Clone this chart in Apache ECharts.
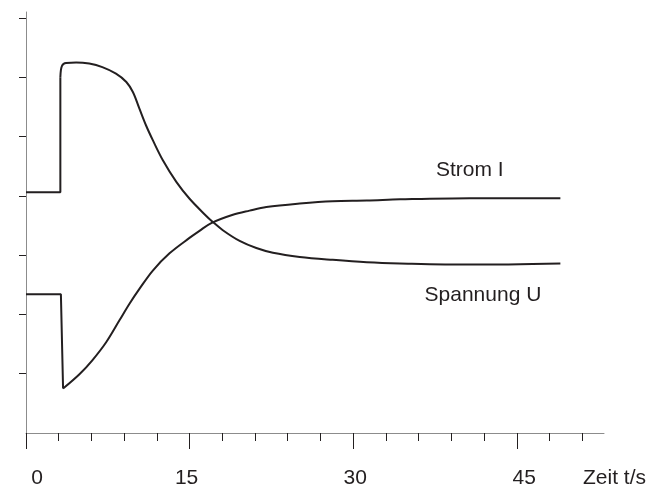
<!DOCTYPE html>
<html>
<head>
<meta charset="utf-8">
<script src="https://cdn.jsdelivr.net/npm/echarts@6/dist/echarts.min.js"></script>
<style>
  html, body { margin: 0; padding: 0; background: #fff; }
  #chart { width: 658px; height: 484px; }
</style>
</head>
<body>
<div id="chart"></div>
<script>
// Zeit t/s ; first three points are the step before the switch-on
const stromT = [0, 3.2, 3.4, 4.9, 6.1, 7.35, 8.57, 9.49, 10.4, 11.63, 13.16, 14.99, 15.91, 16.99, 18.97, 20.5, 22.04, 25.1, 28.1, 31.25, 34.3, 40.7, 49.0];
const stromI = [2.34, 2.34, 0.75, 0.99, 1.23, 1.53, 1.90, 2.18, 2.43, 2.74, 3.03, 3.29, 3.41, 3.54, 3.68, 3.75, 3.81, 3.87, 3.91, 3.92, 3.94, 3.96, 3.96];

const spannungT = [0, 3.15, 3.15, 3.2, 3.3, 3.45, 3.67, 4.6, 5.8, 7.0, 8.25, 9.2, 9.8, 10.4, 11.0, 11.65, 12.55, 13.8, 15.0, 16.53, 17.0, 18.05, 19.59, 21.12, 22.64, 25.1, 28.13, 31.25, 34.28, 40.7, 49.0];
const spannungU = [4.06, 4.06, 6.0, 6.12, 6.19, 6.225, 6.24, 6.25, 6.23, 6.17, 6.06, 5.92, 5.75, 5.47, 5.19, 4.93, 4.60, 4.23, 3.95, 3.66, 3.58, 3.42, 3.24, 3.12, 3.04, 2.97, 2.92, 2.88, 2.86, 2.84, 2.86];

const xLabels = [0, 15, 30, 45];
const xMinorTicks = [0, 3, 6, 9, 12, 15, 18, 21, 24, 27, 30, 33, 36, 39, 42, 45, 48, 51];
const yTicks = [1, 2, 3, 4, 5, 6, 7];

const ink = '#231f20';
const axisGray = '#8c8c8c';
const font = "'Liberation Sans', Arial, sans-serif";

const myChart = echarts.init(document.getElementById('chart'));

function zip(xs, ys) {
    return xs.map((x, i) => [x, ys[i]]);
}

const stromAll = zip(stromT, stromI);
const spannungAll = zip(spannungT, spannungU);

// step part (sharp corners) and curve part (smoothed)
function stepSeries(data) {
    return {
        type: 'line',
        xAxisIndex: 0,
        yAxisIndex: 0,
        data: data,
        showSymbol: false,
        silent: true,
        lineStyle: { color: ink, width: 2 }
    };
}

const option = {
    animation: false,
    textStyle: { fontFamily: font },
    grid: [
        { left: 26, right: 54, top: 12, bottom: 51, outerBoundsMode: 'none' },
        { left: 26, right: 54, top: 12, bottom: 51, outerBoundsMode: 'none' }
    ],
    xAxis: [
        {
            gridIndex: 0,
            type: 'value',
            min: 0,
            max: 53,
            splitLine: { show: false },
            axisLine: { lineStyle: { color: axisGray, width: 1 } },
            axisTick: { customValues: xLabels, length: 16, lineStyle: { color: ink, width: 1 } },
            axisLabel: {
                customValues: xLabels,
                margin: 35,
                color: ink,
                fontSize: 21,
                formatter: function (v) { return '{t' + v + '|' + v + '}'; },
                rich: {
                    t0: { fontSize: 21, color: ink, padding: [0, 0, 0, 22] },
                    t15: { fontSize: 21, color: ink, padding: [0, 6, 0, 0] },
                    t30: { fontSize: 21, color: ink, padding: [0, 0, 0, 4] },
                    t45: { fontSize: 21, color: ink, padding: [0, 0, 0, 15] }
                }
            },
            name: 'Zeit t/s',
            nameLocation: 'end',
            nameGap: -21,
            nameTextStyle: {
                fontSize: 21,
                color: ink,
                align: 'left',
                verticalAlign: 'top',
                padding: [35, 0, 0, 0]
            }
        },
        {
            gridIndex: 1,
            type: 'value',
            min: 0,
            max: 53,
            splitLine: { show: false },
            axisLine: { show: false },
            axisTick: { customValues: xMinorTicks, length: 8, lineStyle: { color: ink, width: 1 } },
            axisLabel: { show: false }
        }
    ],
    yAxis: [
        {
            gridIndex: 0,
            type: 'value',
            min: 0,
            max: 7.1,
            splitLine: { show: false },
            axisLine: { show: true, lineStyle: { color: axisGray, width: 1 } },
            axisTick: { show: true, customValues: yTicks, length: 7, lineStyle: { color: ink, width: 1 } },
            axisLabel: { show: false }
        },
        {
            gridIndex: 1,
            type: 'value',
            min: 0,
            max: 7.1,
            show: false
        }
    ],
    series: [
        stepSeries(stromAll.slice(0, 3)),
        {
            name: 'Strom I',
            type: 'line',
            xAxisIndex: 0,
            yAxisIndex: 0,
            data: stromAll.slice(2),
            smooth: 0.35,
            showSymbol: false,
            lineStyle: { color: ink, width: 2 },
            markPoint: {
                silent: true,
                symbol: 'circle',
                symbolSize: 0,
                data: [{ coord: [40.7, 3.96] }],
                label: {
                    show: true,
                    formatter: 'Strom I',
                    position: 'top',
                    distance: 17,
                    fontSize: 21,
                    color: ink
                }
            }
        },
        stepSeries(spannungAll.slice(0, 3)),
        {
            name: 'Spannung U',
            type: 'line',
            xAxisIndex: 0,
            yAxisIndex: 0,
            data: spannungAll.slice(2),
            smooth: 0.35,
            showSymbol: false,
            lineStyle: { color: ink, width: 2 },
            markPoint: {
                silent: true,
                symbol: 'circle',
                symbolSize: 0,
                data: [{ coord: [41.9, 2.84] }],
                label: {
                    show: true,
                    formatter: 'Spannung U',
                    position: 'bottom',
                    distance: 20,
                    fontSize: 21,
                    color: ink
                }
            }
        }
    ]
};

myChart.setOption(option);
</script>
</body>
</html>
